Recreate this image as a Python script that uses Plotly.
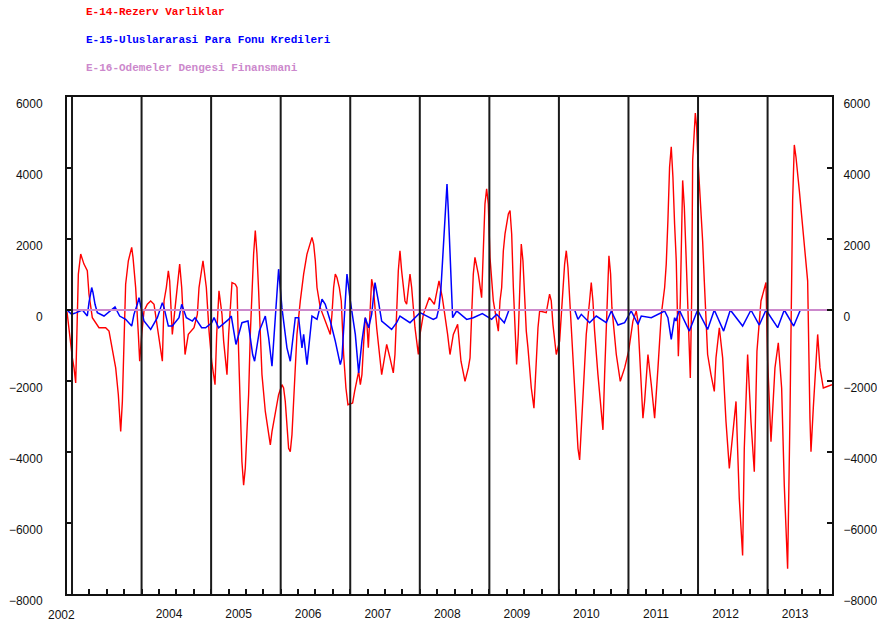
import plotly.graph_objects as go

# ---------------- data ----------------
series_names = ["E-14-Rezerv Varliklar",
                "E-15-Uluslararasi Para Fonu Kredileri",
                "E-16-Odemeler Dengesi Finansmani"]
series_colors = ["#ff0000", "#0000ff", "#cc88cc"]

# E-14 (decimal year, value)
red_x = [2002.928, 2002.947, 2002.966, 2003.005, 2003.029, 2003.053, 2003.091, 2003.125, 2003.172, 2003.220,
         2003.244, 2003.292, 2003.388, 2003.484, 2003.532, 2003.580, 2003.628, 2003.666, 2003.700, 2003.724,
         2003.748, 2003.771, 2003.810, 2003.858, 2003.877, 2003.915, 2003.954, 2003.973, 2004.002, 2004.035,
         2004.083, 2004.131, 2004.179, 2004.227, 2004.299, 2004.323, 2004.356, 2004.385, 2004.404, 2004.442,
         2004.490, 2004.548, 2004.577, 2004.625, 2004.672, 2004.754, 2004.802, 2004.826, 2004.883, 2004.931,
         2004.970, 2005.008, 2005.056, 2005.080, 2005.113, 2005.132, 2005.156, 2005.180, 2005.213, 2005.228,
         2005.252, 2005.276, 2005.300, 2005.348, 2005.372, 2005.395, 2005.419, 2005.443, 2005.467, 2005.491,
         2005.515, 2005.539, 2005.563, 2005.587, 2005.611, 2005.635, 2005.659, 2005.683, 2005.707, 2005.731,
         2005.779, 2005.827, 2005.851, 2005.875, 2005.923, 2005.970, 2006.018, 2006.042, 2006.066, 2006.090,
         2006.114, 2006.138, 2006.162, 2006.186, 2006.210, 2006.234, 2006.282, 2006.330, 2006.378, 2006.426,
         2006.450, 2006.474, 2006.498, 2006.522, 2006.569, 2006.641, 2006.713, 2006.737, 2006.761, 2006.785,
         2006.809, 2006.843, 2006.871, 2006.905, 2006.938, 2006.967, 2007.034, 2007.063, 2007.097, 2007.121,
         2007.145, 2007.168, 2007.192, 2007.216, 2007.240, 2007.260, 2007.308, 2007.332, 2007.380, 2007.404,
         2007.452, 2007.500, 2007.524, 2007.571, 2007.619, 2007.643, 2007.667, 2007.691, 2007.715, 2007.739,
         2007.787, 2007.811, 2007.859, 2007.883, 2007.931, 2007.979, 2008.003, 2008.051, 2008.137, 2008.209,
         2008.276, 2008.324, 2008.400, 2008.434, 2008.482, 2008.544, 2008.592, 2008.650, 2008.698, 2008.722,
         2008.746, 2008.769, 2008.793, 2008.841, 2008.889, 2008.913, 2008.937, 2008.961, 2008.985, 2009.009,
         2009.033, 2009.057, 2009.129, 2009.153, 2009.177, 2009.201, 2009.225, 2009.273, 2009.297, 2009.321,
         2009.345, 2009.368, 2009.392, 2009.416, 2009.440, 2009.459, 2009.483, 2009.507, 2009.531, 2009.555,
         2009.579, 2009.603, 2009.641, 2009.660, 2009.675, 2009.699, 2009.723, 2009.818, 2009.866, 2009.890,
         2009.914, 2009.962, 2010.010, 2010.034, 2010.082, 2010.106, 2010.130, 2010.178, 2010.226, 2010.274,
         2010.298, 2010.322, 2010.346, 2010.393, 2010.441, 2010.465, 2010.489, 2010.513, 2010.561, 2010.609,
         2010.633, 2010.657, 2010.681, 2010.705, 2010.719, 2010.743, 2010.762, 2010.825, 2010.882, 2010.945,
         2011.002, 2011.064, 2011.112, 2011.136, 2011.160, 2011.208, 2011.232, 2011.280, 2011.328, 2011.376,
         2011.424, 2011.472, 2011.520, 2011.543, 2011.567, 2011.591, 2011.615, 2011.639, 2011.663, 2011.687,
         2011.717, 2011.745, 2011.779, 2011.803, 2011.827, 2011.851, 2011.875, 2011.889, 2011.908, 2011.923,
         2011.961, 2011.980, 2011.994, 2012.018, 2012.042, 2012.066, 2012.090, 2012.114, 2012.138, 2012.186,
         2012.234, 2012.258, 2012.306, 2012.354, 2012.402, 2012.450, 2012.498, 2012.546, 2012.593, 2012.641,
         2012.665, 2012.713, 2012.761, 2012.809, 2012.847, 2012.905, 2012.977, 2013.001, 2013.049, 2013.106,
         2013.154, 2013.202, 2013.240, 2013.288, 2013.322, 2013.360, 2013.384, 2013.408, 2013.456, 2013.504,
         2013.552, 2013.576, 2013.609, 2013.624, 2013.657, 2013.705, 2013.720, 2013.753, 2013.801, 2013.926]
red_y = [-50, -400, -782, -1348, -1631, -2056, 1010, 1576, 1293, 1104,
         444, -216, -499, -499, -594, -1065, -1631, -2386, -3424, -2575,
         -499, 727, 1387, 1764, 1482, 633, -688, -1443, -688, -28,
         161, 255, 161, -499, -1443, 255, 633, 1104, 821, -688,
         255, 1293, 633, -1254, -688, -499, -122, 633, 1387, 633,
         -594, -1443, -2103, -688, 538, 255, -122, -877, -1443, -1820,
         -688, 255, 774, 727, 633, -1160, -2858, -4273, -4933, -4461,
         -3424, -2386, -688, 633, 1576, 2236, 1576, 538, -877, -1820,
         -2858, -3518, -3801, -3424, -2952, -2386, -2103, -2197, -2575, -3330,
         -3896, -3990, -3518, -2575, -1631, -688, 255, 1010, 1576, 1906,
         2047, 1859, 1387, 633, 66, -311, -688, -122, 633, 1010,
         916, 633, 255, -1254, -2197, -2669, -2622, -2292, -1914, -1726,
         -2103, -1820, -971, -216, -405, -1065, 868, 633, -499, -971,
         -1820, -1254, -971, -1348, -1773, -1254, 255, 1104, 1670, 1104,
         255, 161, 1010, 633, -499, -1254, -688, -122, 349, 161,
         821, 349, -688, -1254, -688, -405, -1443, -2009, -1631, -1348,
         -122, 1010, 1482, 1010, 349, 1953, 2991, 3415, 2991, 1482,
         821, 255, -594, 255, 633, 1670, 2142, 2708, 2802, 2142,
         633, -688, -1537, -688, 633, 1859, 1387, 444, -594, -1065,
         -1726, -2197, -2763, -2009, -1348, -499, -28, -75, 444, 255,
         -405, -1254, -877, -122, 1293, 1670, 1198, -499, -2197, -3896,
         -4226, -3330, -2669, -688, 255, 774, 255, -594, -1820, -2952,
         -3377, -1820, -311, 1104, 1529, 1010, 66, -1254, -2009, -1631,
         -1160, -311, -28, -311, -1348, -3046, -2575, -1254, -2103, -3046,
         -1631, -122, 633, 1293, 2519, 4028, 4600, 3745, 2425, 1387,
         -1300, 255, 3651, 2896, 1576, 161, -1254, -1914, 255, 4217,
         5550, 5160, 4406, 3651, 2991, 1953, 821, -122, -1254, -1820,
         -2292, -1348, -499, -1348, -3141, -4461, -3424, -2575, -5310, -6914,
         -3896, -1254, -3141, -4556, -1160, 255, 774, -1443, -3707, -1631,
         -924, -2197, -4933, -7291, -2952, 3085, 4650, 4311, 3368, 2330,
         1387, 821, -3046, -3990, -2763, -1065, -688, -1631, -2197, -2103]

# E-15 (decimal year, value)
blue_x = [2002.928, 2002.995, 2003.062, 2003.149, 2003.220, 2003.244, 2003.283, 2003.302, 2003.331, 2003.364,
          2003.460, 2003.556, 2003.618, 2003.685, 2003.771, 2003.858, 2003.891, 2003.939, 2003.963, 2003.987,
          2004.035, 2004.131, 2004.227, 2004.299, 2004.323, 2004.385, 2004.442, 2004.538, 2004.577, 2004.644,
          2004.730, 2004.768, 2004.864, 2004.921, 2005.008, 2005.042, 2005.089, 2005.108, 2005.252, 2005.290,
          2005.357, 2005.405, 2005.443, 2005.530, 2005.597, 2005.625, 2005.693, 2005.779, 2005.827, 2005.875,
          2005.923, 2005.970, 2006.018, 2006.090, 2006.138, 2006.210, 2006.258, 2006.306, 2006.330, 2006.378,
          2006.450, 2006.522, 2006.594, 2006.641, 2006.713, 2006.785, 2006.857, 2006.881, 2006.929, 2006.953,
          2007.001, 2007.073, 2007.121, 2007.168, 2007.216, 2007.264, 2007.308, 2007.356, 2007.404, 2007.452,
          2007.595, 2007.667, 2007.715, 2007.811, 2007.859, 2008.003, 2008.099, 2008.194, 2008.242, 2008.276,
          2008.305, 2008.324, 2008.353, 2008.372, 2008.391, 2008.410, 2008.434, 2008.458, 2008.472, 2008.530,
          2008.674, 2008.769, 2008.899, 2009.033, 2009.105, 2009.215, 2009.282, 2010.226, 2010.274, 2010.322,
          2010.441, 2010.537, 2010.681, 2010.753, 2010.849, 2010.945, 2011.040, 2011.136, 2011.184, 2011.328,
          2011.520, 2011.567, 2011.615, 2011.663, 2011.683, 2011.731, 2011.875, 2011.994, 2012.138, 2012.234,
          2012.368, 2012.464, 2012.641, 2012.761, 2012.881, 2012.977, 2013.145, 2013.240, 2013.375, 2013.471,
          2013.926]
blue_y = [0, -122, -75, 0, -170, 208, 633, 491, 160, -75,
          -170, 0, 86, -170, -264, -452, -122, 160, 349, 113,
          -311, -547, -216, 208, 66, -452, -452, -216, 160, -216,
          -311, -216, -499, -499, -358, -216, -405, -499, -264, -170,
          -971, -594, -358, -311, -1254, -1443, -594, -170, -782, -1584,
          -122, 1150, 66, -1065, -1443, -216, -216, -1065, -688, -1537,
          -170, -264, 302, 160, -311, -877, -1537, -1348, 255, 1010,
          255, -688, -1773, -877, -216, -499, -122, 774, 255, -311,
          -547, -358, -170, -292, -358, -75, -170, -264, -216, 66,
          633, 1293, 2330, 3085, 3550, 2802, 1670, 633, -216, -28,
          -264, -216, -103, -264, -122, -358, 0, 0, -264, -122,
          -358, -170, -358, -28, -424, -358, -28, -405, -170, -216,
          -28, -216, -829, -216, -311, 0, -594, 0, -547, 0,
          -594, 0, -452, 0, -424, 0, -499, 0, -452, 0,
          0]

# E-16 (flat at zero over the whole span)
purple_x = [2002.928, 2013.926]
purple_y = [0, 0]

# axis / tick content
x_range = [2002.928, 2013.926]
year_lines = [2003, 2004, 2005, 2006, 2007, 2008, 2009, 2010, 2011, 2012, 2013]
tick_pos = [2004.395, 2005.395, 2006.395, 2007.395, 2008.395, 2009.395, 2010.395, 2011.395, 2012.395, 2013.395]
tick_labels = ["2004", "2005", "2006", "2007", "2008", "2009", "2010", "2011", "2012", "2013"]
first_label = "2002"
y_range = [-8000, 6000]
y_ticks = [-8000, -6000, -4000, -2000, 0, 2000, 4000, 6000]

# ---------------- figure ----------------
fig = go.Figure()
fig.add_trace(go.Scatter(x=red_x, y=red_y, mode="lines", name=series_names[0],
                         line=dict(color=series_colors[0], width=1.4)))
fig.add_trace(go.Scatter(x=blue_x, y=blue_y, mode="lines", name=series_names[1],
                         line=dict(color=series_colors[1], width=1.5)))
fig.add_trace(go.Scatter(x=purple_x, y=purple_y, mode="lines", name=series_names[2],
                         line=dict(color=series_colors[2], width=2), yaxis="y2"))

for yr in year_lines:
    fig.add_shape(type="line", xref="x", yref="paper", x0=yr, x1=yr, y0=0, y1=1,
                  line=dict(color="#1a1a1a", width=2), layer="above")

tick_font = dict(family="Liberation Sans, Arial, sans-serif", size=12, color="#111111")

fig.update_layout(
    width=877, height=630,
    margin=dict(l=67, r=45, t=97, b=36, autoexpand=False),
    paper_bgcolor="white", plot_bgcolor="white",
    showlegend=False,
    xaxis=dict(range=x_range, showgrid=False, zeroline=False, automargin=False,
               showline=True, linecolor="#111111", linewidth=2, mirror=True,
               tickmode="array", tickvals=tick_pos, ticktext=tick_labels, ticks="",
               tickfont=tick_font, ticklabelstandoff=8,
               minor=dict(tickmode="linear", tick0=2003, dtick=0.25, ticks="inside",
                          ticklen=5, tickwidth=1.5, tickcolor="#111111", showgrid=False)),
    yaxis=dict(range=y_range, tickmode="array", tickvals=y_ticks, showgrid=False, zeroline=False,
               automargin=False,
               showline=True, linecolor="#111111", linewidth=2,
               ticks="inside", ticklen=5, tickwidth=1.5, tickcolor="#111111",
               tickfont=tick_font, ticklabelstandoff=20, ticklabelshift=7),
    yaxis2=dict(range=y_range, tickmode="array", tickvals=y_ticks, overlaying="y", side="right",
                showgrid=False, zeroline=False, automargin=False,
                showline=True, linecolor="#111111", linewidth=2,
                ticks="inside", ticklen=5, tickwidth=1.5, tickcolor="#111111",
                tickfont=tick_font, ticklabelstandoff=7, ticklabelshift=7),
)

title_y = [1.171, 1.115, 1.058]
for name, col, yy in zip(series_names, series_colors, title_y):
    fig.add_annotation(text=name, xref="paper", yref="paper", x=0.022, y=yy,
                       xanchor="left", yanchor="middle", showarrow=False,
                       font=dict(family="Liberation Mono, Courier New, monospace", size=11,
                                 color=col, weight="bold"))

fig.add_annotation(text=first_label, xref="paper", yref="paper", x=-0.007, y=0,
                   xanchor="center", yanchor="top", yshift=-12, showarrow=False,
                   font=tick_font)

# remove the default page margin so the 877x630 figure fills the window exactly
fig.write_html("out.html", config={"displayModeBar": False},
               post_script="document.body.style.margin='0';document.body.style.overflow='hidden';")
